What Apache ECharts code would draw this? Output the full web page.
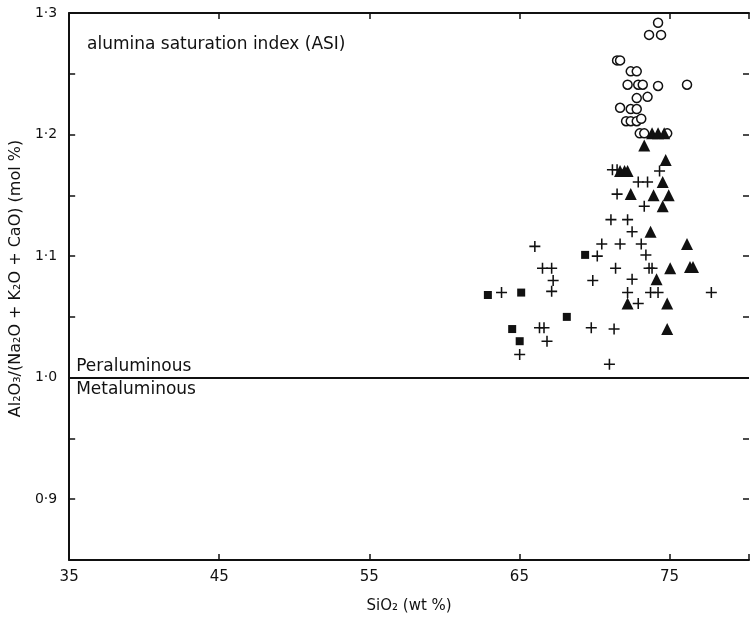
<!DOCTYPE html>
<html>
<head>
<meta charset="utf-8">
<script src="https://cdn.jsdelivr.net/npm/echarts@6/dist/echarts.min.js"></script>
<style>
  html, body { margin: 0; padding: 0; background: #fff; }
  #main { width: 752px; height: 619px; }
</style>
</head>
<body>
<div id="main"></div>
<script>
// SiO2 (wt %) vs ASI
var openCircles = [
  [74.24, 1.292], [73.64, 1.282], [74.44, 1.282], [71.51, 1.261], [71.71, 1.261],
  [72.42, 1.252], [72.82, 1.252], [72.21, 1.241], [72.92, 1.241], [73.22, 1.241],
  [74.24, 1.240], [76.17, 1.241], [72.82, 1.230], [73.54, 1.231], [71.71, 1.222],
  [72.42, 1.221], [72.82, 1.221], [72.11, 1.211], [72.42, 1.211], [72.82, 1.211],
  [73.12, 1.213], [73.02, 1.201], [73.32, 1.201], [74.85, 1.201]
];
var filledTriangles = [
  [73.84, 1.201], [74.24, 1.201], [74.65, 1.201], [73.32, 1.191], [74.75, 1.179],
  [71.71, 1.170], [72.01, 1.170], [72.21, 1.170], [74.55, 1.161], [72.42, 1.151],
  [73.94, 1.150], [74.95, 1.150], [74.55, 1.141], [73.74, 1.120], [76.17, 1.110],
  [75.05, 1.090], [76.37, 1.091], [76.57, 1.091], [74.14, 1.081], [72.21, 1.061],
  [74.85, 1.061], [74.85, 1.040]
];
var filledSquares = [
  [69.38, 1.101], [62.90, 1.068], [65.12, 1.070], [68.16, 1.050], [64.52, 1.040],
  [65.02, 1.030]
];
var crosses = [
  [71.20, 1.171], [71.51, 1.171], [74.34, 1.170], [72.92, 1.161], [73.54, 1.161],
  [71.51, 1.151], [73.32, 1.141], [71.10, 1.130], [72.21, 1.130], [72.51, 1.120],
  [66.03, 1.108], [70.49, 1.110], [71.71, 1.110], [73.12, 1.110], [70.19, 1.100],
  [73.43, 1.101], [66.54, 1.090], [67.15, 1.090], [71.41, 1.090], [73.64, 1.090],
  [73.84, 1.090], [67.25, 1.080], [69.89, 1.080], [72.51, 1.081], [63.81, 1.070],
  [67.15, 1.071], [72.21, 1.070], [73.74, 1.070], [74.24, 1.070], [77.79, 1.070],
  [72.92, 1.061], [66.34, 1.041], [66.64, 1.041], [69.79, 1.041], [71.31, 1.040],
  [66.84, 1.030], [65.02, 1.019], [71.00, 1.011]
];
var boundaryASI = 1.0;

var chart = echarts.init(document.getElementById('main'));
var ink = '#111';
var font = 'DejaVu Sans';

function yLabel(v) {
  var k = Math.round(v * 100);
  if (k % 10 !== 0) return '';
  return (k / 100).toFixed(1).replace('.', '\u00b7');
}

function xLabel(v) {
  return Math.round(v) % 10 === 5 && Math.abs(v - Math.round(v)) < 1e-6 ? String(v) : '';
}

var plusPath = 'path://M4.3,0H5.7V4.3H10V5.7H5.7V10H4.3V5.7H0V4.3H4.3Z';
var tick = { inside: true, length: 6, lineStyle: { color: ink, width: 1.5 } };
var line = { lineStyle: { color: ink, width: 2 } };

var option = {
  animation: false,
  backgroundColor: '#fff',
  title: {
    text: 'alumina saturation index (ASI)',
    left: 82,
    top: 31,
    textStyle: { fontFamily: font, fontSize: 17, fontWeight: 'normal', color: ink }
  },
  grid: { left: 68, right: 0, top: 13, bottom: 53 },
  xAxis: [
    {
      type: 'value', position: 'bottom', min: 35, max: 80.3, interval: 10,
      name: 'SiO\u2082 (wt %)', nameLocation: 'middle', nameGap: 39,
      nameTextStyle: { fontFamily: font, fontSize: 15, color: ink },
      axisLine: line,
      axisTick: tick,
      axisLabel: { fontFamily: font, fontSize: 15, color: ink, margin: 10, formatter: xLabel },
      splitLine: { show: false }
    },
    {
      type: 'value', position: 'top', min: 35, max: 80.3, interval: 10,
      axisLine: line,
      axisTick: tick,
      axisLabel: { show: false },
      splitLine: { show: false }
    }
  ],
  yAxis: [
    {
      type: 'value', position: 'left', min: 0.85, max: 1.3, interval: 0.05,
      name: 'Al\u2082O\u2083/(Na\u2082O + K\u2082O + CaO) (mol %)',
      nameLocation: 'middle', nameGap: 37,
      nameTextStyle: { fontFamily: font, fontSize: 16, color: ink, padding: [0, 0, 0, 16] },
      axisLine: line,
      axisTick: tick,
      axisLabel: { fontFamily: font, fontSize: 14, color: ink, margin: 12, formatter: yLabel },
      splitLine: { show: false }
    },
    {
      type: 'value', position: 'right', min: 0.85, max: 1.3, interval: 0.05,
      axisLine: { show: false },
      axisTick: { show: true, inside: true, length: 6, lineStyle: { color: ink, width: 1.5 } },
      axisLabel: { show: false },
      splitLine: { show: false }
    }
  ],
  series: [
    {
      name: 'crosses', type: 'scatter', data: crosses,
      symbol: plusPath, symbolSize: 11,
      itemStyle: { color: ink, opacity: 1 },
      markLine: {
        silent: true, symbol: 'none',
        lineStyle: { color: ink, width: 2, type: 'solid' },
        label: { fontFamily: font, fontSize: 17, color: ink, distance: 3, padding: [0, 0, 0, 4] },
        data: [
          { yAxis: boundaryASI, label: { formatter: 'Peraluminous', position: 'insideStartTop' } },
          { yAxis: boundaryASI, label: { formatter: 'Metaluminous', position: 'insideStartBottom' } }
        ]
      }
    },
    {
      name: 'circles', type: 'scatter', data: openCircles,
      symbol: 'circle', symbolSize: 9,
      itemStyle: { color: '#fff', borderColor: ink, borderWidth: 1.5, opacity: 1 }
    },
    {
      name: 'triangles', type: 'scatter', data: filledTriangles,
      symbol: 'triangle', symbolSize: 12,
      itemStyle: { color: ink, opacity: 1 }
    },
    {
      name: 'squares', type: 'scatter', data: filledSquares,
      symbol: 'rect', symbolSize: 8,
      itemStyle: { color: ink, opacity: 1 }
    }
  ]
};

chart.setOption(option);
</script>
</body>
</html>
